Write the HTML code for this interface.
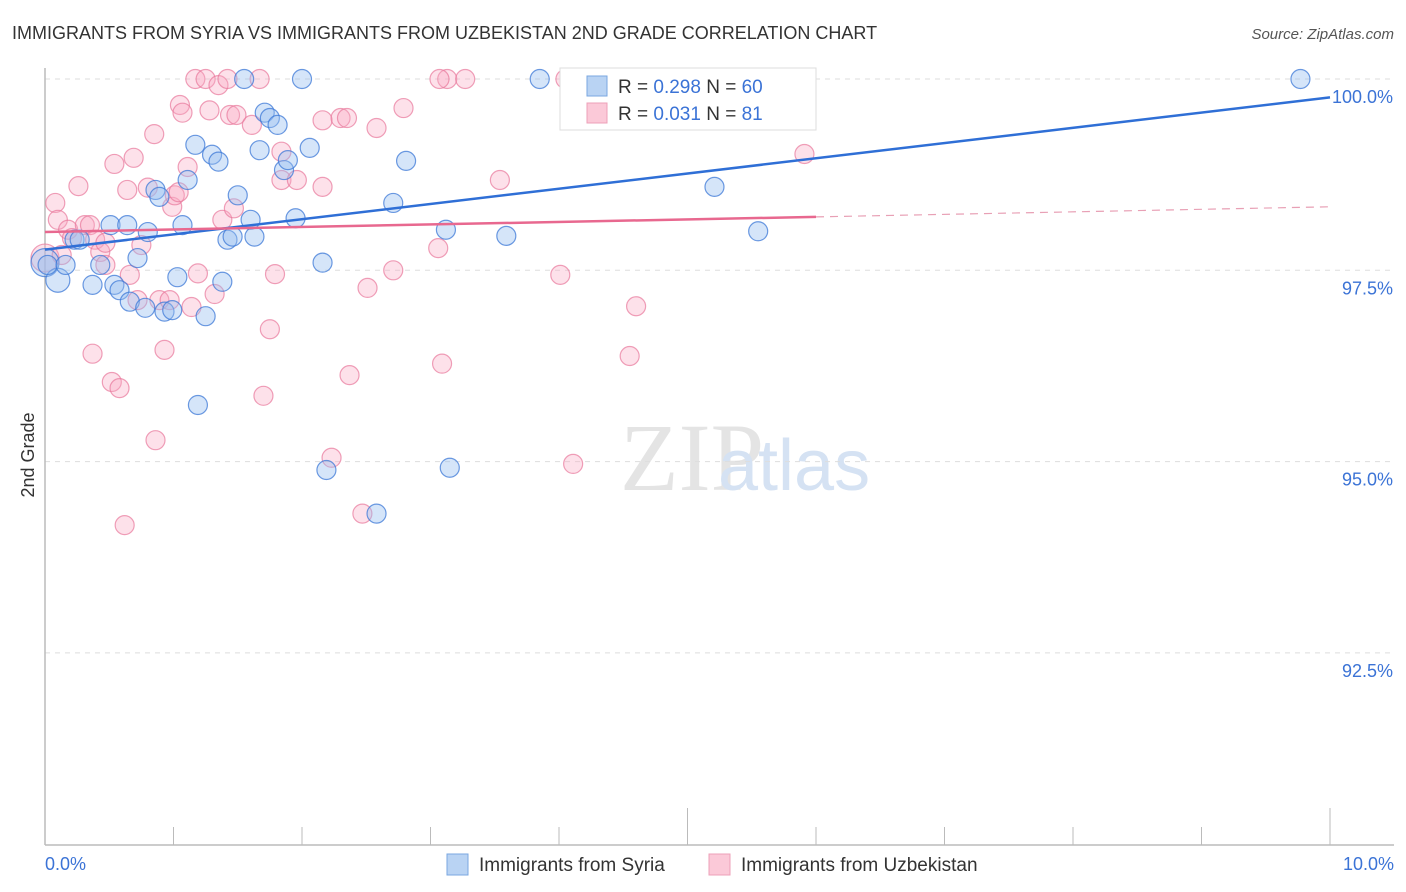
<!DOCTYPE html>
<html><head><meta charset="utf-8"><style>
body{margin:0;background:#fff;font-family:"Liberation Sans",sans-serif}
svg{display:block}
</style></head><body>
<svg id="chart" width="1406" height="892">
<text x="12" y="39" font-size="18" fill="#333">IMMIGRANTS FROM SYRIA VS IMMIGRANTS FROM UZBEKISTAN 2ND GRADE CORRELATION CHART</text>
<text x="1394" y="39" font-size="15" fill="#555" font-style="italic" text-anchor="end">Source: ZipAtlas.com</text>
<text x="620" y="490" font-size="96" fill="#e4e4e4" font-family="Liberation Serif">ZIP</text>
<text x="718" y="490" font-size="72" fill="#d5e2f3">atlas</text>
<text x="34" y="455" font-size="18" fill="#333" text-anchor="middle" transform="rotate(-90 34 455)">2nd Grade</text>
<g id="grid"></g><g id="marks"></g>
<g>
<rect x="560" y="68" width="256" height="62" fill="#fff" stroke="#ddd"/>
<rect x="587" y="76" width="20" height="20" fill="#b9d3f3" stroke="#7aa7e0"/>
<text x="618" y="93" font-size="19" fill="#333">R = <tspan fill="#3b73d6">0.298</tspan>   N = <tspan fill="#3b73d6">60</tspan></text>
<rect x="587" y="103" width="20" height="20" fill="#fbc9d8" stroke="#eea0b8"/>
<text x="618" y="120" font-size="19" fill="#333">R = <tspan fill="#3b73d6">0.031</tspan>   N = <tspan fill="#3b73d6"> 81</tspan></text>
</g>
<g>
<rect x="447" y="854" width="21" height="21" fill="#b9d3f3" stroke="#7aa7e0"/>
<text x="479" y="871" font-size="19" fill="#333">Immigrants from Syria</text>
<rect x="709" y="854" width="21" height="21" fill="#fbc9d8" stroke="#eea0b8"/>
<text x="741" y="871" font-size="19" fill="#333">Immigrants from Uzbekistan</text>
</g>
</svg>
<script>
const xTicks=[0,1,2,3,4,5,6,7,8,9,10];
const yTicks=[92.5,95,97.5,100];
const yTickLabels=["92.5%","95.0%","97.5%","100.0%"];
const syriaX=[0,0.10,0.02,0.16,0.23,0.27,0.37,0.43,0.51,0.54,0.58,0.64,0.66,0.72,0.78,0.80,0.86,0.89,0.93,0.99,1.03,1.07,1.11,1.17,1.19,1.25,1.30,1.35,1.38,1.42,1.46,1.50,1.55,1.60,1.63,1.67,1.71,1.75,1.81,1.86,1.89,1.95,2.00,2.06,2.16,2.19,2.58,2.71,2.81,3.12,3.15,3.59,3.85,5.21,5.55,5.82,9.77];
const syriaY=[97.60,97.37,97.57,97.57,97.90,97.90,97.31,97.57,98.09,97.31,97.24,98.09,97.09,97.66,97.01,98.00,98.55,98.46,96.96,96.98,97.41,98.09,98.68,99.14,95.74,96.90,99.01,98.92,97.35,97.90,97.94,98.48,100,98.16,97.94,99.07,99.56,99.49,99.40,98.81,98.94,98.18,100,99.10,97.60,94.89,94.32,98.38,98.93,98.03,94.92,97.95,100,98.59,98.01,100,100];
const uzbX=[0,0.08,0.10,0.13,0.18,0.21,0.26,0.31,0.35,0.37,0.39,0.43,0.47,0.47,0.52,0.54,0.58,0.62,0.64,0.66,0.69,0.72,0.75,0.80,0.85,0.86,0.89,0.93,0.97,0.99,1.01,1.04,1.05,1.07,1.11,1.14,1.17,1.19,1.25,1.28,1.32,1.35,1.38,1.42,1.44,1.47,1.49,1.61,1.67,1.70,1.75,1.79,1.84,1.84,1.96,2.16,2.16,2.23,2.30,2.35,2.37,2.47,2.51,2.58,2.71,2.79,3.06,3.09,3.13,3.27,3.54,4.01,4.05,4.11,4.55,4.60,5.91,3.07];
const uzbY=[97.66,98.38,98.16,97.70,98.03,97.92,98.60,98.09,98.09,96.41,97.90,97.74,97.86,97.57,96.04,98.89,95.96,94.17,98.55,97.44,98.97,97.11,97.83,98.58,99.28,95.28,97.11,96.46,97.11,98.33,98.48,98.52,99.66,99.56,98.85,97.02,100,97.46,100,99.59,97.19,99.92,98.16,100,99.53,98.31,99.53,99.40,100,95.86,96.73,97.45,99.05,98.68,98.68,98.59,99.46,95.05,99.49,99.49,96.13,94.32,97.27,99.36,97.50,99.62,97.79,96.28,100,100,98.68,97.44,100,94.97,96.38,97.03,99.02,100];
const syriaTrend=[97.77,99.76];
const uzbTrend=[98.00,98.33];
const uzbTrendSolidEnd=6.0;
const NS="http://www.w3.org/2000/svg";
const X=v=>45+v*128.5;
const Y=v=>79+(100-v)*76.52;
function mk(tag,attrs,parent){const e=document.createElementNS(NS,tag);for(const k in attrs)e.setAttribute(k,attrs[k]);parent.appendChild(e);return e;}
const grid=document.getElementById('grid'),marks=document.getElementById('marks');
yTicks.forEach((t,i)=>{
 const l=mk('line',{x1:45,x2:1394,y1:Y(t),y2:Y(t),stroke:'#ddd','stroke-dasharray':'5,5'},grid);
 
 
 const tx=mk('text',{x:1393,y:Y(t)+24,'font-size':18,fill:'#3b73d6','text-anchor':'end'},grid);
 tx.textContent=yTickLabels[i];
 
 
});
const ax=mk('line',{x1:45,x2:1394,y1:845,y2:845,stroke:'#bbb','stroke-width':1.5},grid);


const yax=mk('line',{x1:45,x2:45,y1:68,y2:845,stroke:'#bbb','stroke-width':1.5},grid);


xTicks.forEach(t=>{
 const tk=mk('line',{x1:X(t),x2:X(t),y1:(t===5||t===10)?808:827,y2:845,stroke:'#bbb'},grid);
 
 
});
[[0,"0.0%",'start',45],[10,"10.0%",'end',1394]].forEach(a=>{
 const tx=mk('text',{x:a[3],y:870,'font-size':18,fill:'#3b73d6','text-anchor':a[2]},grid);
 tx.textContent=a[1];
 
 
});
uzbX.forEach((v,i)=>{
 const c=mk('circle',{cx:X(v),cy:Y(uzbY[i]),r:i===0?14:9.5,fill:'rgba(248,170,195,0.35)',stroke:'rgba(232,120,155,0.7)','stroke-width':1.2},marks);
 
 
});
syriaX.forEach((v,i)=>{
 const c=mk('circle',{cx:X(v),cy:Y(syriaY[i]),r:i===0?14:(i===1?12:9.5),fill:'rgba(150,190,240,0.4)',stroke:'rgba(60,120,215,0.75)','stroke-width':1.2},marks);
 
 
});
const bl=mk('line',{x1:X(0),y1:Y(syriaTrend[0]),x2:X(10),y2:Y(syriaTrend[1]),stroke:'#2f6fd6','stroke-width':2.5},marks);


const pm=uzbTrend[0]+(uzbTrend[1]-uzbTrend[0])*uzbTrendSolidEnd/10;
const pl=mk('line',{x1:X(0),y1:Y(uzbTrend[0]),x2:X(uzbTrendSolidEnd),y2:Y(pm),stroke:'#e8688f','stroke-width':2.5},marks);


const pd=mk('line',{x1:X(uzbTrendSolidEnd),y1:Y(pm),x2:X(10),y2:Y(uzbTrend[1]),stroke:'#e8a0b5','stroke-width':1.2,'stroke-dasharray':'8,6'},marks);


</script>
</body></html>
